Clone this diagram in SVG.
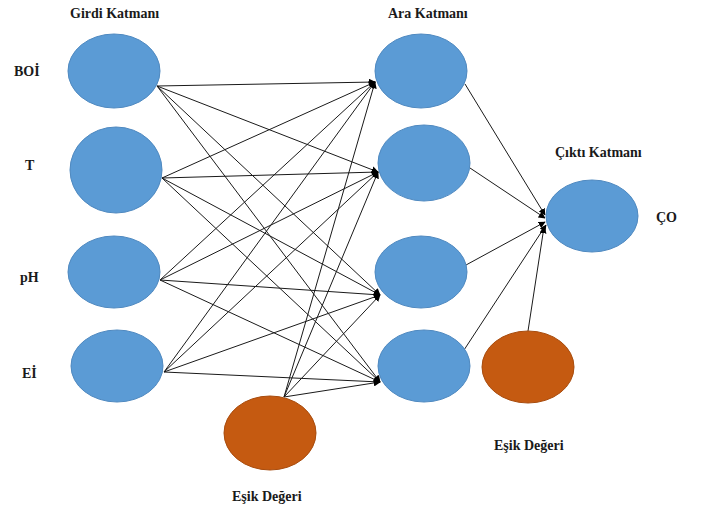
<svg xmlns="http://www.w3.org/2000/svg" width="705" height="510" viewBox="0 0 705 510">
<defs>
<style>
.n{fill:#5B9BD5;stroke:#4F89C0;stroke-width:1}
.b{fill:#C55A11;stroke:#A84C0E;stroke-width:1}
.t{font-size:14px;font-weight:bold;fill:#1a1a1a}
.e line{stroke:#1a1a1a;stroke-width:1;marker-end:url(#ah)}
</style>
<marker id="ah" viewBox="0 0 10 10" refX="9" refY="5" markerWidth="7" markerHeight="7" markerUnits="userSpaceOnUse" orient="auto">
<path d="M0,0 L10,5 L0,10 z" fill="#000"/>
</marker>
</defs>
<rect width="705" height="510" fill="#fff"/>
<g id="edges" class="e">
<line x1="157" y1="86" x2="375" y2="82"/>
<line x1="157" y1="86" x2="378" y2="172"/>
<line x1="157" y1="86" x2="380" y2="295"/>
<line x1="157" y1="86" x2="380" y2="382"/>
<line x1="162" y1="178" x2="375" y2="82"/>
<line x1="162" y1="178" x2="378" y2="172"/>
<line x1="162" y1="178" x2="380" y2="295"/>
<line x1="162" y1="178" x2="380" y2="382"/>
<line x1="160" y1="280" x2="375" y2="82"/>
<line x1="160" y1="280" x2="378" y2="172"/>
<line x1="160" y1="280" x2="380" y2="295"/>
<line x1="160" y1="280" x2="380" y2="382"/>
<line x1="164" y1="372" x2="375" y2="82"/>
<line x1="164" y1="372" x2="378" y2="172"/>
<line x1="164" y1="372" x2="380" y2="295"/>
<line x1="164" y1="372" x2="380" y2="382"/>
<line x1="284" y1="397" x2="375" y2="82"/>
<line x1="284" y1="397" x2="378" y2="172"/>
<line x1="284" y1="397" x2="380" y2="295"/>
<line x1="284" y1="397" x2="380" y2="382"/>
<line x1="465" y1="84" x2="545" y2="215"/>
<line x1="470" y1="168" x2="545" y2="218"/>
<line x1="466" y1="265" x2="545" y2="222"/>
<line x1="464" y1="350" x2="546" y2="225"/>
<line x1="528" y1="331" x2="544" y2="227"/>
</g>
<g font-family="'Liberation Serif', 'Times New Roman', serif">
<g id="in-boi"><ellipse class="n" cx="114" cy="71" rx="46" ry="37"/><text class="t" x="14" y="76">BOİ</text></g>
<g id="in-t"><ellipse class="n" cx="116" cy="170" rx="46" ry="43"/><text class="t" x="25" y="170">T</text></g>
<g id="in-ph"><ellipse class="n" cx="114" cy="272" rx="46" ry="36"/><text class="t" x="20" y="282">pH</text></g>
<g id="in-ei"><ellipse class="n" cx="117" cy="366" rx="46" ry="36"/><text class="t" x="22" y="378">Eİ</text></g>
<g id="h1"><ellipse class="n" cx="421" cy="71" rx="46" ry="37"/></g>
<g id="h2"><ellipse class="n" cx="424" cy="163" rx="46" ry="38"/></g>
<g id="h3"><ellipse class="n" cx="421" cy="272" rx="46" ry="36"/></g>
<g id="h4"><ellipse class="n" cx="424" cy="366" rx="46" ry="36"/></g>
<g id="out"><ellipse class="n" cx="592" cy="216" rx="46" ry="36"/><text class="t" x="656" y="222">ÇO</text></g>
<g id="bias1"><ellipse class="b" cx="270" cy="433" rx="46" ry="37"/><text class="t" x="232" y="501">Eşik Değeri</text></g>
<g id="bias2"><ellipse class="b" cx="528" cy="367" rx="46" ry="36"/><text class="t" x="494" y="450">Eşik Değeri</text></g>
<g id="labels">
<text class="t" x="70" y="18">Girdi Katmanı</text>
<text class="t" x="388" y="18">Ara Katmanı</text>
<text class="t" x="555" y="157">Çıktı Katmanı</text>
</g>
</g>
</svg>
